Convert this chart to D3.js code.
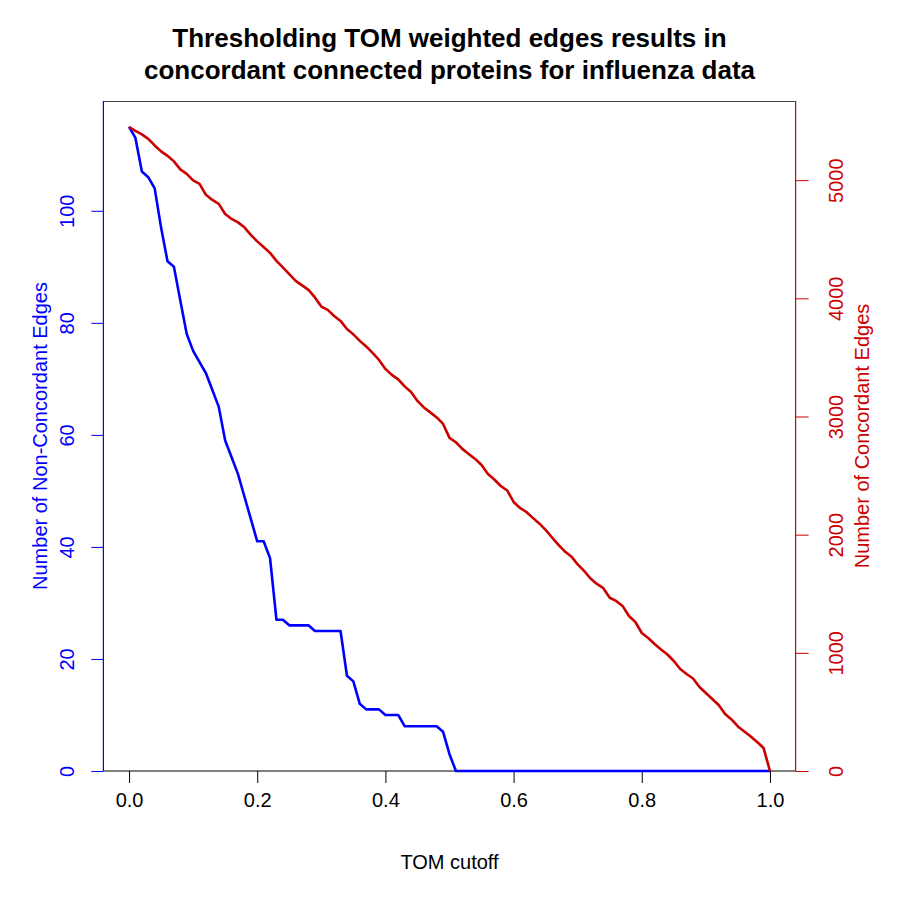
<!DOCTYPE html>
<html>
<head>
<meta charset="utf-8">
<script src="https://cdn.jsdelivr.net/npm/d3@7"></script>
<style>
  html, body { margin: 0; padding: 0; background: #fff; }
  svg { display: block; font-family: "Liberation Sans", Arial, Helvetica, sans-serif; }
</style>
</head>
<body>
<svg id="chart" width="900" height="900"></svg>
<script>
// ---- data ----
const cutoffs = d3.range(0, 101).map(i => i / 100);
const nonConcordant = [
  115, 113, 107, 106, 104, 97, 91, 90, 84, 78,
  75, 73, 71, 68, 65, 59, 56, 53, 49, 45,
  41, 41, 38, 27, 27, 26, 26, 26, 26, 25,
  25, 25, 25, 25, 17, 16, 12, 11, 11, 11,
  10, 10, 10, 8, 8, 8, 8, 8, 8, 7,
  3, 0, 0, 0, 0, 0, 0, 0, 0, 0,
  0, 0, 0, 0, 0, 0, 0, 0, 0, 0,
  0, 0, 0, 0, 0, 0, 0, 0, 0, 0,
  0, 0, 0, 0, 0, 0, 0, 0, 0, 0,
  0, 0, 0, 0, 0, 0, 0, 0, 0, 0,
  0
];
const concordant = [
  5450, 5417, 5388, 5350, 5294, 5244, 5206, 5159, 5091, 5053,
  4998, 4969, 4876, 4833, 4799, 4714, 4672, 4643, 4601, 4537,
  4482, 4435, 4385, 4317, 4262, 4205, 4148, 4110, 4072, 4008,
  3930, 3902, 3851, 3809, 3741, 3695, 3640, 3593, 3538, 3479,
  3403, 3352, 3314, 3255, 3208, 3132, 3077, 3035, 2992, 2937,
  2819, 2782, 2726, 2683, 2641, 2590, 2514, 2467, 2412, 2374,
  2277, 2226, 2192, 2142, 2095, 2040, 1976, 1913, 1858, 1816,
  1748, 1693, 1629, 1583, 1547, 1466, 1439, 1397, 1312, 1261,
  1168, 1126, 1075, 1028, 986, 931, 863, 821, 783, 711,
  660, 609, 559, 483, 436, 377, 334, 292, 245, 195,
  0
];
const xTicks = [0, 0.2, 0.4, 0.6, 0.8, 1.0];
const leftTicks = [0, 20, 40, 60, 80, 100];
const rightTicks = [0, 1000, 2000, 3000, 4000, 5000];
const titleLines = ["Thresholding TOM weighted edges results in",
                    "concordant connected proteins for influenza data"];
const xLabel = "TOM cutoff";
const leftLabel = "Number of Non-Concordant Edges";
const rightLabel = "Number of Concordant Edges";

// ---- layout ----
const blue = "#0000FF", red = "#CD0000";
const plotL = 103.4, plotR = 795.6, plotT = 101, plotB = 771;
const svg = d3.select("#chart");

const x = d3.scaleLinear().domain([-0.04, 1.04]).range([plotL, plotR]);
const yL = d3.scaleLinear().domain([0, 119.6]).range([plotB, plotT]);
const yR = d3.scaleLinear().domain([0, 5670]).range([plotB, plotT]);

const tickFont = 20;

// box: top
svg.append("line").attr("x1", plotL).attr("x2", plotR).attr("y1", plotT + 0.5).attr("y2", plotT + 0.5)
  .attr("stroke", "#444").attr("stroke-width", 1);

// x axis
const gx = svg.append("g").attr("transform", `translate(0,${plotB})`)
  .call(d3.axisBottom(x).tickValues(xTicks).tickFormat(d3.format(".1f")).tickSize(12).tickSizeOuter(0).tickPadding(8));
gx.select(".domain").remove();
gx.selectAll(".tick line").attr("stroke", "#000");
gx.selectAll(".tick text").attr("font-size", tickFont).attr("fill", "#000")
  .attr("font-family", "Liberation Sans, Arial, sans-serif").attr("y", 29).attr("dy", "0.35em");
svg.append("line").attr("x1", plotL).attr("x2", plotR).attr("y1", plotB).attr("y2", plotB)
  .attr("stroke", "#000").attr("stroke-width", 1);

// left axis
const gl = svg.append("g").attr("transform", `translate(${plotL},0)`)
  .call(d3.axisLeft(yL).tickValues(leftTicks).tickFormat(d3.format("d")).tickSize(12).tickSizeOuter(0));
gl.select(".domain").remove();
gl.selectAll(".tick line").attr("stroke", blue);
gl.selectAll(".tick text").attr("font-size", tickFont).attr("fill", blue)
  .attr("font-family", "Liberation Sans, Arial, sans-serif")
  .attr("transform", "rotate(-90)").attr("x", 0).attr("y", -36).attr("dy", "0.35em")
  .attr("text-anchor", "middle");
svg.append("line").attr("x1", plotL).attr("x2", plotL).attr("y1", plotT).attr("y2", plotB)
  .attr("stroke", blue).attr("stroke-width", 1.2);

// right axis
const gr = svg.append("g").attr("transform", `translate(${plotR},0)`)
  .call(d3.axisRight(yR).tickValues(rightTicks).tickFormat(d3.format("d")).tickSize(13).tickSizeOuter(0));
gr.select(".domain").remove();
gr.selectAll(".tick line").attr("stroke", red);
gr.selectAll(".tick text").attr("font-size", tickFont).attr("fill", red)
  .attr("font-family", "Liberation Sans, Arial, sans-serif")
  .attr("transform", "rotate(-90)").attr("x", 0).attr("y", 40).attr("dy", "0.35em")
  .attr("text-anchor", "middle");
svg.append("line").attr("x1", plotR).attr("x2", plotR).attr("y1", plotT).attr("y2", plotB)
  .attr("stroke", red).attr("stroke-width", 1.2);

// lines
const lineL = d3.line().x((d, i) => x(cutoffs[i])).y(d => yL(d));
const lineR = d3.line().x((d, i) => x(cutoffs[i])).y(d => yR(d));
svg.append("path").datum(nonConcordant).attr("d", lineL)
  .attr("fill", "none").attr("stroke", blue).attr("stroke-width", 2.6).attr("stroke-linejoin", "round");
svg.append("path").datum(concordant).attr("d", lineR)
  .attr("fill", "none").attr("stroke", red).attr("stroke-width", 2.6).attr("stroke-linejoin", "round");

// titles
svg.append("g").selectAll("text").data(titleLines).join("text")
  .attr("x", (plotL + plotR) / 2).attr("y", (d, i) => 47 + i * 32)
  .attr("text-anchor", "middle").attr("font-size", 26).attr("font-weight", "bold").attr("fill", "#000")
  .text(d => d);

svg.append("text").attr("x", (plotL + plotR) / 2).attr("y", 862).attr("dy", "0.35em")
  .attr("text-anchor", "middle").attr("font-size", tickFont).attr("fill", "#000").text(xLabel);

svg.append("text").attr("transform", `translate(40,${(plotT + plotB) / 2}) rotate(-90)`)
  .attr("dy", "0.35em").attr("text-anchor", "middle").attr("font-size", tickFont).attr("fill", blue)
  .text(leftLabel);

svg.append("text").attr("transform", `translate(862,${(plotT + plotB) / 2}) rotate(-90)`)
  .attr("dy", "0.35em").attr("text-anchor", "middle").attr("font-size", tickFont).attr("fill", red)
  .text(rightLabel);
</script>
</body>
</html>
